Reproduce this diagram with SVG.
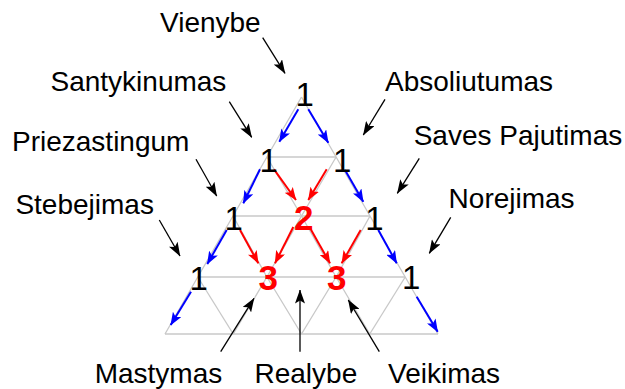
<svg xmlns="http://www.w3.org/2000/svg" width="625" height="389" viewBox="0 0 625 389">
<style>
.grid{fill:none;stroke:#c8c8c8;stroke-width:1.3}
.lbl{font-family:"Liberation Sans",Arial,sans-serif;font-size:28px;fill:#000}
.one{font-family:"Liberation Sans",Arial,sans-serif;font-size:33px;fill:#000;text-anchor:middle}
.num{font-family:"Liberation Sans",Arial,sans-serif;font-size:35px;font-weight:bold;fill:#ff0000;text-anchor:middle}
.b{stroke:#0000ff;stroke-width:2;fill:none;marker-end:url(#mb)}
.r{stroke:#ff0000;stroke-width:2;fill:none;marker-end:url(#mr)}
.k{stroke:#000;stroke-width:1.3;fill:none;marker-end:url(#mk)}
</style>
<defs>
<marker id="mb" markerUnits="userSpaceOnUse" viewBox="0 0 13 10" markerWidth="13" markerHeight="10" refX="12.5" refY="5" orient="auto"><path d="M0,0 L13,5 L0,10 L3,5 Z" fill="#0000ff"/></marker>
<marker id="mr" markerUnits="userSpaceOnUse" viewBox="0 0 13 10" markerWidth="13" markerHeight="10" refX="12.5" refY="5" orient="auto"><path d="M0,0 L13,5 L0,10 L3,5 Z" fill="#ff0000"/></marker>
<marker id="mk" markerUnits="userSpaceOnUse" viewBox="0 0 14 10" markerWidth="14" markerHeight="10" refX="13.5" refY="5" orient="auto"><path d="M0,0 L14,5 L0,10 L3,5 Z" fill="#000"/></marker>
</defs>
<g id="grid">
<polyline class="grid" points="266.9,157 336.1,157"/>
<polyline class="grid" points="233,216 370,216"/>
<polyline class="grid" points="197.8,277 405.2,277"/>
<polyline class="grid" points="165,334 438,334"/>
<polyline class="grid" points="301.5,97 266.9,157 233,216 197.8,277 165,334"/>
<polyline class="grid" points="336.1,157 301.5,216 266.9,277 233.25,334"/>
<polyline class="grid" points="370,216 336.1,277 301.5,334"/>
<polyline class="grid" points="405.2,277 369.75,334"/>
<polyline class="grid" points="301.5,97 336.1,157 370,216 405.2,277 438,334"/>
<polyline class="grid" points="266.9,157 301.5,216 336.1,277 369.75,334"/>
<polyline class="grid" points="233,216 266.9,277 301.5,334"/>
<polyline class="grid" points="197.8,277 233.25,334"/>
</g>
<g id="connectors">
<line class="b" x1="298.3" y1="109.3" x2="279.3" y2="141.7"/>
<line class="b" x1="308.3" y1="109.3" x2="328.3" y2="142.7"/>
<line class="b" x1="260" y1="169.3" x2="243.3" y2="203.3"/>
<line class="b" x1="345" y1="170" x2="363.3" y2="201.7"/>
<line class="b" x1="226.7" y1="230" x2="207.3" y2="264"/>
<line class="b" x1="378.3" y1="230" x2="396.7" y2="263.3"/>
<line class="b" x1="191" y1="291.7" x2="170.7" y2="325"/>
<line class="b" x1="416.7" y1="296.7" x2="437.7" y2="331.7"/>
<line class="r" x1="274" y1="169.3" x2="296" y2="200"/>
<line class="r" x1="326.7" y1="169.3" x2="308.3" y2="200"/>
<line class="r" x1="240" y1="230" x2="258.3" y2="263.3"/>
<line class="r" x1="293.3" y1="227" x2="275" y2="263.3"/>
<line class="r" x1="310" y1="228" x2="330" y2="263.3"/>
<line class="r" x1="360.7" y1="230" x2="341.7" y2="263.3"/>
<line class="k" x1="262.7" y1="37.7" x2="285" y2="73.3"/>
<line class="k" x1="229.3" y1="101.7" x2="251.7" y2="137.3"/>
<line class="k" x1="196" y1="159.3" x2="216.7" y2="196"/>
<line class="k" x1="159.3" y1="220" x2="180" y2="256"/>
<line class="k" x1="385" y1="99.3" x2="363.3" y2="135"/>
<line class="k" x1="419.3" y1="158.3" x2="397.3" y2="193.3"/>
<line class="k" x1="450.7" y1="217.3" x2="429.3" y2="253.3"/>
<line class="k" x1="220.7" y1="351.7" x2="254" y2="298.3"/>
<line class="k" x1="300" y1="351.7" x2="300" y2="290"/>
<line class="k" x1="379.3" y1="351.7" x2="348.3" y2="300"/>
</g>
<g id="n-apex"><text class="one" x="304.7" y="106">1</text></g>
<g id="n-r1l"><text class="one" x="268.7" y="171.5">1</text></g>
<g id="n-r1r"><text class="one" x="342.2" y="171.5">1</text></g>
<g id="n-r2l"><text class="one" x="233.7" y="230">1</text></g>
<g id="n-r2c"><text class="num" x="303.8" y="230">2</text></g>
<g id="n-r2r"><text class="one" x="374.5" y="230">1</text></g>
<g id="n-r3l"><text class="one" x="198.7" y="290">1</text></g>
<g id="n-r3a"><text class="num" x="268.3" y="289.5">3</text></g>
<g id="n-r3b"><text class="num" x="336.7" y="289.5">3</text></g>
<g id="n-r3r"><text class="one" x="411.2" y="289">1</text></g>
<g id="l-vienybe"><text class="lbl" x="160" y="31.5">Vienybe</text></g>
<g id="l-santykinumas"><text class="lbl" x="50.5" y="90.7">Santykinumas</text></g>
<g id="l-absoliutumas"><text class="lbl" x="385" y="90.7">Absoliutumas</text></g>
<g id="l-priezastingum"><text class="lbl" x="12" y="150.7">Priezastingum</text></g>
<g id="l-saves"><text class="lbl" x="413.7" y="145">Saves Pajutimas</text></g>
<g id="l-stebejimas"><text class="lbl" x="15.4" y="214.3">Stebejimas</text></g>
<g id="l-norejimas"><text class="lbl" x="448.6" y="207.7">Norejimas</text></g>
<g id="l-mastymas"><text class="lbl" x="94.7" y="382.5">Mastymas</text></g>
<g id="l-realybe"><text class="lbl" x="254.5" y="383">Realybe</text></g>
<g id="l-veikimas"><text class="lbl" x="388" y="382.5">Veikimas</text></g>
</svg>
